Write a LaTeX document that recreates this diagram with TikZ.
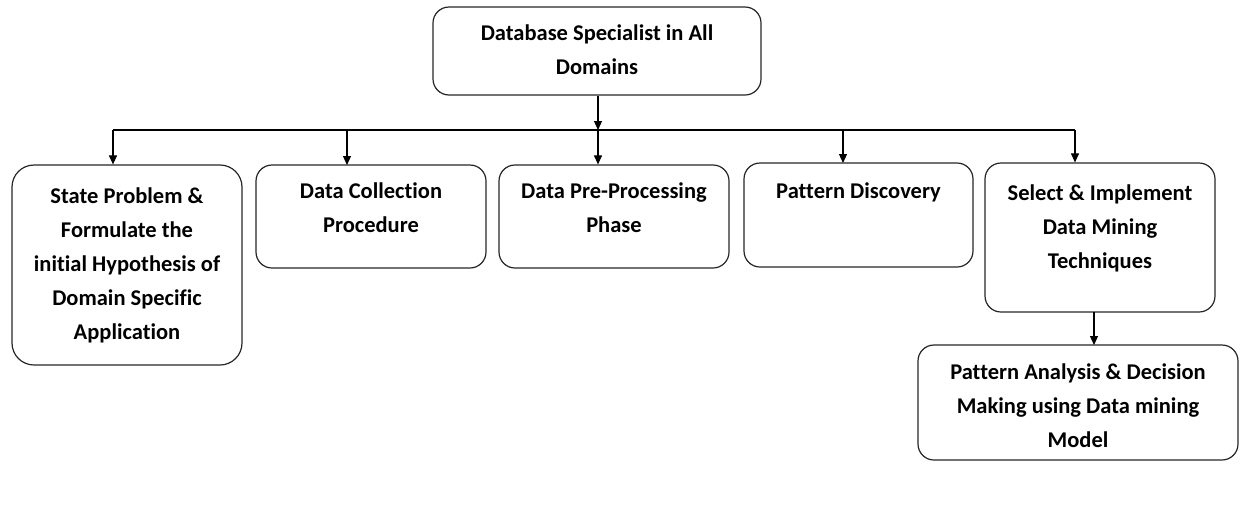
\documentclass[tikz,border=0pt]{standalone}
\usepackage{fontspec}
\setmainfont{Carlito}[Ligatures=NoCommon]
\usetikzlibrary{arrows.meta}
\begin{document}
\begin{tikzpicture}[x=1pt,y=-1pt,
  box/.style={draw=black!85,line width=1.2pt,rounded corners=16pt,inner sep=0pt},
  txt/.style={anchor=north,align=center,font=\fontsize{22.5}{34}\selectfont\bfseries,inner sep=0pt},
  arr/.style={line width=1.1pt,-{Triangle[length=9pt,width=8pt]}},
  ln/.style={line width=1.1pt}]
\useasboundingbox (0,0) rectangle (1240,504);
% boxes
\node[box,minimum width=328pt,minimum height=88pt] (top) at (597,51) {};
\node[box,minimum width=230pt,minimum height=200pt,rounded corners=22pt] (b1) at (127,265) {};
\node[box,minimum width=230pt,minimum height=103pt] (b2) at (371,216.5) {};
\node[box,minimum width=230pt,minimum height=103pt] (b3) at (614,216.5) {};
\node[box,minimum width=229pt,minimum height=104pt] (b4) at (858.5,215) {};
\node[box,minimum width=230pt,minimum height=149pt] (b5) at (1100,237.5) {};
\node[box,minimum width=320pt,minimum height=115pt] (b6) at (1078,402.5) {};
% texts
\node[txt] (t0) at (597,25) {Database Specialist in All\\Domains};
\node[txt] (t1) at (127,188) {State Problem \&\\Formulate the\\initial Hypothesis of\\Domain Specific\\Application};
\node[txt] (t2) at (371,183) {Data Collection\\Procedure};
\node[txt] (t3) at (614,183) {Data Pre-Processing\\Phase};
\node[txt] (t4) at (858.5,183) {Pattern Discovery};
\node[txt] (t5) at (1100,185) {Select \& Implement\\Data Mining\\Techniques};
\node[txt] (t6) at (1078,364) {Pattern Analysis \& Decision\\Making using Data mining\\Model};
% connectors
\coordinate (bus) at (598,130);
\coordinate (busL) at (113,130);
\coordinate (busR) at (1075,130);
\draw[arr] (top.south -| bus) -- (bus);
\draw[ln] (busL) -- (busR);
\draw[arr] (busL) -- (busL |- b1.north);
\draw[arr] (347,130) -- (347,165);
\draw[arr] (bus) -- (bus |- b3.north);
\draw[arr] (843,130) -- (843,163);
\draw[arr] (busR) -- (busR |- b5.north);
\draw[arr] (1094,312) -- (1094,345);
\end{tikzpicture}
\end{document}
